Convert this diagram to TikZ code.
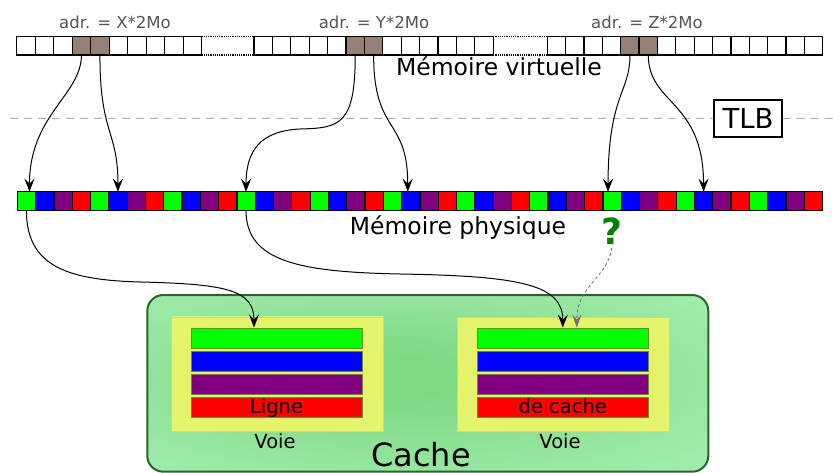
\documentclass[tikz,border=0pt]{standalone}
\usepackage{fontspec}
\setmainfont{DejaVu Sans}
\usetikzlibrary{arrows.meta}

\definecolor{vbrown}{RGB}{150,128,115}
\definecolor{pgreen}{RGB}{0,255,0}
\definecolor{pblue}{RGB}{0,0,255}
\definecolor{ppurple}{RGB}{128,0,128}
\definecolor{pred}{RGB}{255,0,0}
\definecolor{labelgrey}{RGB}{85,85,85}
\definecolor{tlbdash}{RGB}{175,175,175}
\definecolor{cacheborder}{RGB}{45,100,45}
\definecolor{cacheinner}{RGB}{126,217,132}
\definecolor{cacheouter}{RGB}{190,252,205}
\definecolor{voieinner}{RGB}{230,242,95}
\definecolor{voieouter}{RGB}{224,246,128}
\definecolor{voieedge}{RGB}{205,220,110}
\definecolor{baredge}{RGB}{110,140,50}
\definecolor{qgreen}{RGB}{0,128,0}
\definecolor{guessgrey}{RGB}{110,110,110}

\pgfdeclareradialshading{cacheglow}{\pgfpoint{-4bp}{2bp}}{color(0bp)=(cacheinner); color(6bp)=(cacheinner); color(58bp)=(cacheouter)}
\pgfdeclareradialshading{voieglow}{\pgfpoint{0bp}{0bp}}{color(0bp)=(voieinner); color(72bp)=(voieouter)}

\begin{document}
\begin{tikzpicture}[x=1pt,y=-1pt,
  vcell/.style={draw=black,line width=1.3pt,minimum width=18.45pt,minimum height=18.3pt,
    inner sep=0pt,outer sep=0pt,anchor=north west},
  pcell/.style={draw=black,line width=1.2pt,minimum width=18.3pt,minimum height=19pt,
    inner sep=0pt,outer sep=0pt,anchor=north west},
  dotlink/.style={line width=1.1pt,dash pattern=on 1.1pt off 1.1pt},
  adrlabel/.style={text=labelgrey,font=\fontsize{16.5}{19}\selectfont,anchor=base,inner sep=0pt},
  bigtitle/.style={font=\fontsize{23.5}{27}\selectfont,anchor=base,inner sep=0pt},
  tlbline/.style={draw=tlbdash,line width=1pt,dash pattern=on 8pt off 6pt},
  conn/.style={line width=1pt,-{Stealth[length=13pt,width=10pt,inset=5pt]}},
  guess/.style={draw=guessgrey,line width=0.8pt,dash pattern=on 3pt off 2.5pt,
    -{Stealth[length=13pt,width=9pt,inset=5pt]}},
  cachebox/.style={shade,shading=cacheglow,draw=cacheborder,line width=2pt,rounded corners=16pt,
    minimum width=561pt,minimum height=176.7pt,inner sep=0pt},
  voiebox/.style={shade,shading=voieglow,draw=voieedge,line width=0.6pt,
    minimum width=211.6pt,minimum height=114.3pt,inner sep=0pt},
  linebar/.style={draw=baredge,line width=0.7pt,minimum width=171pt,minimum height=20pt,
    inner sep=0pt,anchor=north},
  smalltext/.style={font=\fontsize{19.5}{22}\selectfont,anchor=base,inner sep=0pt}
]
\useasboundingbox (0,0) rectangle (833,473);

% ---- virtual memory: three page segments ----
\foreach \i in {0,...,9}{
  \ifnum\i=3 \def\f{vbrown}\else\ifnum\i=4 \def\f{vbrown}\else\def\f{white}\fi\fi
  \node[vcell,fill=\f] (va\i) at ({16.7+18.5*\i},36.7) {};
}
\foreach \i in {0,...,12}{
  \ifnum\i=5 \def\f{vbrown}\else\ifnum\i=6 \def\f{vbrown}\else\def\f{white}\fi\fi
  \node[vcell,fill=\f] (vb\i) at ({254+18.4*\i},36.7) {};
}
\foreach \i in {0,...,14}{
  \ifnum\i=4 \def\f{vbrown}\else\ifnum\i=5 \def\f{vbrown}\else\def\f{white}\fi\fi
  \node[vcell,fill=\f] (vc\i) at ({547.3+18.36*\i},36.7) {};
}
\draw[dotlink] (va9.north east) -- (vb0.north west);
\draw[dotlink] (va9.south east) -- (vb0.south west);
\draw[dotlink] (vb12.north east) -- (vc0.north west);
\draw[dotlink] (vb12.south east) -- (vc0.south west);

\node[adrlabel] (adrx) at (115,28.3) {adr. = X*2Mo};
\node[adrlabel] (adry) at (374,28.3) {adr. = Y*2Mo};
\node[adrlabel] (adrz) at (647,28.3) {adr. = Z*2Mo};
\node[bigtitle] (vtitle) at (499,76) {Mémoire virtuelle};

% ---- TLB boundary ----
\node[draw=black,line width=1.1pt,fill=white,minimum width=68pt,minimum height=37pt,inner sep=0pt]
  (tlb) at (748,118.5) {\fontsize{27.5}{30}\selectfont TLB};
\coordinate (tlbl) at (10,118.3);
\coordinate (tlbr) at (833,118.3);
\draw[tlbline] (tlbl) -- (tlb.west);
\draw[tlbline] (tlb.east) -- (tlbr);

% ---- physical memory ----
\foreach \i in {0,...,43}{
  \pgfmathtruncatemacro\m{mod(\i,4)}
  \ifcase\m \def\f{pgreen}\or \def\f{pblue}\or \def\f{ppurple}\or \def\f{pred}\fi
  \node[pcell,fill=\f] (p\i) at ({17.3+18.3*\i},191.7) {};
}
\node[bigtitle] (ptitle) at (458,235) {Mémoire physique};
\node[text=qgreen,font=\fontsize{36}{40}\selectfont\bfseries,anchor=base,inner sep=0pt]
  (q) at (612,245) {?};

% ---- translations ----
\draw[conn] (va3.south) .. controls +(0,40) and +(0,-77) .. ([xshift=3pt]p0.north);
\draw[conn] (va4.south) .. controls +(0,80) and +(0,-62) .. (p5.north);
\draw[conn] (vb5.south) .. controls +(0,70) and +(40,-1) .. (300,129)
  .. controls +(-40,2) and +(0,-41) .. (p12.north);
\draw[conn] (vb6.south) .. controls +(0,80) and +(0,-75) .. ([xshift=-3pt]p21.north);
\draw[conn] (vc4.south) .. controls +(0,38) and +(0,-97) .. ([xshift=-4pt]p32.north);
\draw[conn] (vc5.south) .. controls +(0,50) and +(0,-92) .. (p37.north);

% ---- cache ----
\node[cachebox] (cache) at (427.8,383.35) {};
\node[font=\fontsize{32}{36}\selectfont,anchor=base,inner sep=0pt] (cachetitle) at (421,466.5) {Cache};

\node[voiebox] (voieL) at (277.5,374) {};
\node[voiebox] (voieR) at (563.3,374.3) {};

\node[linebar,fill=pgreen]  (lG) at (277.2,327.5) {};
\node[linebar,fill=pblue]   (lB) at (277.2,350.8) {};
\node[linebar,fill=ppurple] (lP) at (277.2,374.1) {};
\node[linebar,fill=pred]    (lR) at (277.2,397.4) {};
\node[linebar,fill=pgreen]  (rG) at (562.8,327.5) {};
\node[linebar,fill=pblue]   (rB) at (562.8,350.8) {};
\node[linebar,fill=ppurple] (rP) at (562.8,374.1) {};
\node[linebar,fill=pred]    (rR) at (562.8,397.4) {};

\node[smalltext] (ligne) at (276.5,413.5) {Ligne};
\node[smalltext] (decache) at (562.8,413.5) {de cache};
\node[smalltext] (voieLt) at (275,448.3) {Voie};
\node[smalltext] (voieRt) at (560,448.3) {Voie};

% ---- loads into the cache ----
\draw[conn] (p0.south) .. controls +(0,57) and (70,280) .. (140,282)
  .. controls (225,284) and +(0,-38) .. ([xshift=-23.2pt]lG.north);
\draw[conn] (p12.south) .. controls +(0,51) and (300,272) .. (400,274)
  .. controls (520,276) and +(0,-43) .. (rG.north);
\draw[guess] ([yshift=3pt]q.south) .. controls +(0,35) and +(0,-45) .. ([xshift=14pt]rG.north);
\end{tikzpicture}
\end{document}
